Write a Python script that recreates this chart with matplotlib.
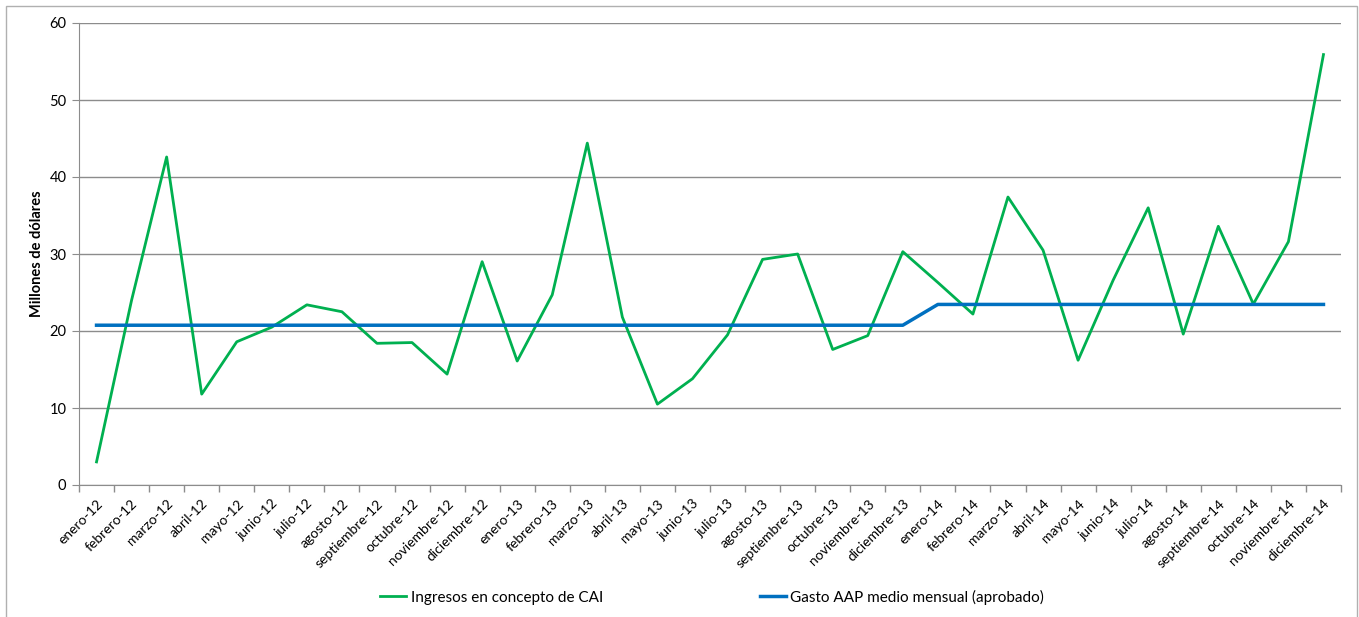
import matplotlib.pyplot as plt
from matplotlib.patches import Rectangle

meses = ["enero", "febrero", "marzo", "abril", "mayo", "junio", "julio",
         "agosto", "septiembre", "octubre", "noviembre", "diciembre"]
etiquetas = [m + "-" + a for a in ["12", "13", "14"] for m in meses]

ingresos_cai = [3.0, 24.0, 42.6, 11.8, 18.6, 20.5, 23.4, 22.5, 18.4, 18.5, 14.4, 29.0,
                16.1, 24.7, 44.4, 21.8, 10.5, 13.8, 19.5, 29.3, 30.0, 17.6, 19.4, 30.3,
                26.3, 22.2, 37.4, 30.5, 16.2, 26.6, 36.0, 19.6, 33.6, 23.5, 31.6, 55.9]
gasto_aap = [20.75] * 24 + [23.45] * 12

plt.rcParams['font.family'] = ['Lato', 'DejaVu Sans']

fig = plt.figure(figsize=(13.59, 6.17), dpi=100)
ax = fig.add_axes([79 / 1359, 1 - 485 / 617, (1341 - 79) / 1359, (485 - 23) / 617])

x = list(range(len(etiquetas)))
ax.plot(x, ingresos_cai, color="#00B050", lw=2, label="Ingresos en concepto de CAI", zorder=3)
ax.plot(x, gasto_aap, color="#0070C0", lw=2.5, label="Gasto AAP medio mensual (aprobado)", zorder=3)

ax.set_xlim(-0.5, len(etiquetas) - 0.5)
ax.set_ylim(0, 60)
ax.set_yticks(range(0, 61, 10))
ax.yaxis.grid(True, color="#8c8c8c", lw=1)
ax.set_axisbelow(True)

# ticks on category boundaries, labels centered on categories
ax.set_xticks([i - 0.5 for i in range(len(etiquetas) + 1)])
ax.set_xticklabels([])
ax.set_xticks(x, minor=True)
ax.set_xticklabels(etiquetas, minor=True, rotation=45, ha="right",
                   rotation_mode="anchor", fontsize=10)
ax.tick_params(axis="x", which="major", length=5, color="#8c8c8c", width=1)
ax.tick_params(axis="x", which="minor", length=0, pad=9)
ax.tick_params(axis="y", length=5, color="#8c8c8c", labelsize=10.5, pad=4)

for s in ["top", "right"]:
    ax.spines[s].set_visible(False)
for s in ["left", "bottom"]:
    ax.spines[s].set_color("#8c8c8c")

ax.set_ylabel("Millones de dólares", fontsize=10.5, fontweight="bold", labelpad=4)

h, l = ax.get_legend_handles_labels()
fig.legend(h, l, loc="center", bbox_to_anchor=(0.524, 1 - 597 / 617), ncol=2,
           frameon=False, fontsize=11, handlelength=1.7, handletextpad=0.3,
           columnspacing=10.25)

fig.patches.append(Rectangle((6 / 1359, -0.05), (1357 - 6) / 1359, 1.05 - 6 / 617,
                             transform=fig.transFigure, fill=False,
                             edgecolor="#b0b0b0", lw=1))

fig.savefig("out.png", dpi=100)
